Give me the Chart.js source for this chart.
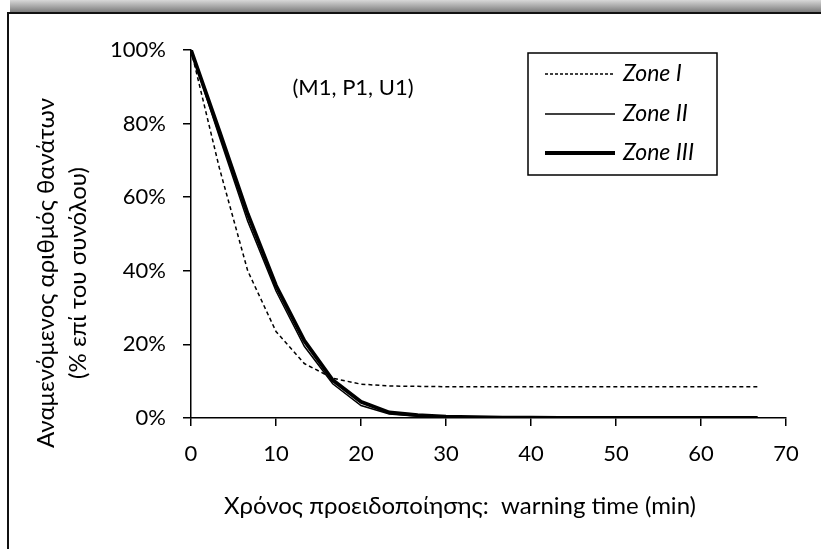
<!DOCTYPE html>
<html>
<head>
<meta charset="utf-8">
<script src="https://cdn.jsdelivr.net/npm/chart.js@4.4.1/dist/chart.umd.min.js"></script>
<style>
  html, body { margin: 0; padding: 0; background: #fff; }
  #wrap { width: 821px; height: 549px; position: relative; }
</style>
</head>
<body>
<div id="wrap"><canvas id="warnChart" width="821" height="549"></canvas></div>
<script>
// warning time (min)
const times = [0, 3.33, 6.67, 10, 13.33, 16.67, 20, 23.33, 26.67, 30, 33.33,
  36.67, 40, 43.33, 46.67, 50, 53.33, 56.67, 60, 63.33, 66.67];

// expected fatalities, % of total
const zoneI = [100, 68, 40, 23.5, 14.8, 10.8, 9.2, 8.7, 8.6, 8.5, 8.5,
  8.5, 8.5, 8.5, 8.5, 8.5, 8.5, 8.5, 8.5, 8.5, 8.5];
const zoneII = [100, 76.5, 53.5, 34.5, 19.5, 9.3, 3.4, 1.1, 0.5, 0.2, 0.1,
  0.1, 0, 0, 0, 0, 0, 0, 0, 0, 0];
const zoneIII = [100, 78, 55.5, 36, 21, 10.3, 4.4, 1.5, 0.8, 0.4, 0.2,
  0.1, 0.1, 0, 0, 0, 0, 0, 0, 0, 0];

const yTicks = [0, 20, 40, 60, 80, 100];
const xTicks = [0, 10, 20, 30, 40, 50, 60, 70];

const xTitle = "Χρόνος προειδοποίησης:  warning time (min)";
const yTitle = ["Αναμενόμενος αριθμός θανάτων", "(% επί του συνόλου)"];
const caseLabel = "(M1, P1, U1)";

const FONT = "Lato, 'Open Sans', sans-serif";

function pts(ys) {
  return times.map((t, i) => ({ x: t, y: ys[i] }));
}

// outer frame with a soft shadow along the top
const framePlugin = {
  id: "frame",
  beforeDraw(chart) {
    const ctx = chart.ctx;
    ctx.save();
    const g = ctx.createLinearGradient(0, 0, 0, 12);
    g.addColorStop(0, "#d8d8d8");
    g.addColorStop(1, "#7c7c7c");
    ctx.fillStyle = g;
    ctx.fillRect(10, 0, chart.width - 10, 12);
    ctx.strokeStyle = "#111";
    ctx.lineWidth = 2;
    ctx.beginPath();
    ctx.moveTo(8, chart.height);
    ctx.lineTo(8, 13);
    ctx.lineTo(chart.width, 13);
    ctx.stroke();
    ctx.restore();
  }
};

// axis titles, boxed legend with line samples, case label
const notesPlugin = {
  id: "notes",
  afterDraw(chart) {
    const ctx = chart.ctx;
    ctx.save();
    ctx.fillStyle = "#000";
    ctx.strokeStyle = "#000";

    ctx.font = "24px " + FONT;
    ctx.textAlign = "center";
    ctx.textBaseline = "middle";
    ctx.fillText(xTitle, 460, 506);

    ctx.save();
    ctx.translate(46, 273);
    ctx.rotate(-Math.PI / 2);
    ctx.fillText(yTitle[0], 0, 0);
    ctx.fillText(yTitle[1], 0, 32);
    ctx.restore();

    ctx.font = "22px " + FONT;
    ctx.fillText(caseLabel, 353, 88);

    ctx.lineWidth = 1.5;
    ctx.strokeRect(528, 53, 189, 122);
    const rows = [74, 114, 153];
    chart.data.datasets.forEach((ds, i) => {
      const y = rows[i];
      ctx.beginPath();
      ctx.setLineDash(ds.label === "Zone I" ? [3, 2] : []);
      ctx.lineWidth = ds.borderWidth;
      ctx.moveTo(545, y);
      ctx.lineTo(615, y);
      ctx.stroke();
      ctx.setLineDash([]);
      ctx.font = "italic 23px " + FONT;
      ctx.textAlign = "left";
      ctx.fillText(ds.label, 623, y);
    });
    ctx.restore();
  }
};

new Chart(document.getElementById("warnChart"), {
  type: "line",
  data: {
    datasets: [
      { label: "Zone I", data: pts(zoneI), borderColor: "#000", borderWidth: 1.5, borderDash: [4, 3] },
      { label: "Zone II", data: pts(zoneII), borderColor: "#000", borderWidth: 1.5 },
      { label: "Zone III", data: pts(zoneIII), borderColor: "#000", borderWidth: 3.8 }
    ]
  },
  options: {
    responsive: false,
    animation: false,
    layout: { padding: { left: 0, top: 50, right: 35, bottom: 0 } },
    elements: { point: { radius: 0 }, line: { tension: 0, fill: false } },
    plugins: { legend: { display: false }, tooltip: { enabled: false } },
    scales: {
      x: {
        type: "linear",
        min: 0,
        max: 70,
        afterFit(scale) { scale.height = 131; },
        afterBuildTicks(scale) { scale.ticks = xTicks.map(v => ({ value: v })); },
        ticks: { color: "#000", padding: 15, font: { family: FONT, size: 22 } },
        grid: { drawOnChartArea: false, drawTicks: true, tickLength: 8, color: "#000", lineWidth: 1.5 },
        border: { color: "#000", width: 1.5 }
      },
      y: {
        min: 0,
        max: 100,
        afterFit(scale) { scale.width = 191; },
        afterBuildTicks(scale) { scale.ticks = yTicks.map(v => ({ value: v })); },
        ticks: { color: "#000", padding: 17, font: { family: FONT, size: 22 }, callback: v => v + "%" },
        grid: { drawOnChartArea: false, drawTicks: true, tickLength: 8, color: "#000", lineWidth: 1.5 },
        border: { color: "#000", width: 1.5 }
      }
    }
  },
  plugins: [framePlugin, notesPlugin]
});
</script>
</body>
</html>
